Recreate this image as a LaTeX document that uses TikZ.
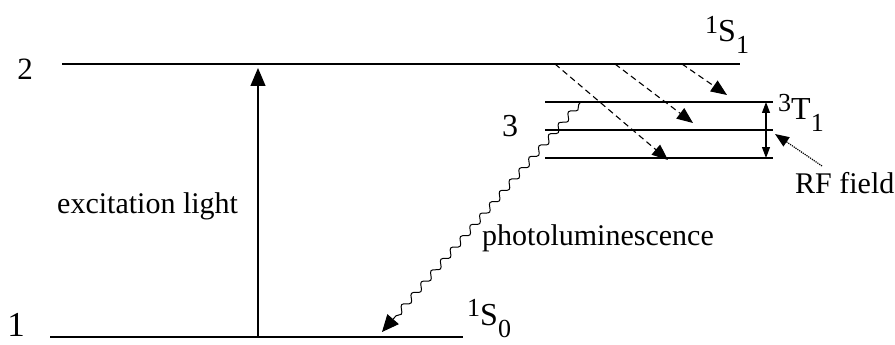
\documentclass[tikz,border=0pt]{standalone}
\usepackage{fontspec}
\setmainfont{Liberation Serif}
\usetikzlibrary{arrows.meta,decorations.pathmorphing}
\newcommand\statelab[3]{{\fontsize{26}{26}\selectfont\raisebox{9pt}{#1}}#2{\fontsize{26}{26}\selectfont\raisebox{-12pt}{#3}}}
\begin{document}
\begin{tikzpicture}[x=1pt,y=-1pt,
  level/.style={line width=1.6pt},
  txt/.style={inner sep=0pt, font=\fontsize{30}{36}\selectfont},
  statetxt/.style={inner sep=0pt, font=\fontsize{32}{36}\selectfont, anchor=base west},
  bigarr/.style={line width=1.2pt, -{Triangle[length=18pt,width=15pt]}},
  dasharr/.style={line width=1.1pt, dash pattern=on 6pt off 4pt, -{Triangle[length=16pt,width=13pt]}},
  wavy/.style={line width=1pt, decorate,
    decoration={snake, amplitude=3pt, segment length=15pt, pre length=2pt, post length=16pt},
    -{Triangle[length=17pt,width=15pt]}},
  rfarr/.style={line width=1.1pt, {Triangle[length=11pt,width=8pt]}-{Triangle[length=11pt,width=8pt]}},
  fieldarr/.style={line width=1.2pt, densely dotted, -{Triangle[length=14pt,width=11pt]}}
]
\useasboundingbox (0,0) rectangle (895,345);

% level end points
\coordinate (L2a) at (62,64);  \coordinate (L2b) at (740,64);
\coordinate (L1a) at (50,337); \coordinate (L1b) at (463,337);
\coordinate (T1a) at (545,102); \coordinate (T1b) at (773,102);
\coordinate (T2a) at (545,130); \coordinate (T2b) at (773,130);
\coordinate (T3a) at (545,158); \coordinate (T3b) at (773,158);

\draw[level] (L2a) -- (L2b);
\draw[level] (L1a) -- (L1b);
\draw[level] (T1a) -- (T1b);
\draw[level] (T2a) -- (T2b);
\draw[level] (T3a) -- (T3b);

% excitation
\coordinate (exS) at (258,337); \coordinate (exE) at (258,68);
\draw[bigarr] (exS) -- (exE);

% intersystem crossing (dashed)
\coordinate (da1) at (555,64); \coordinate (db1) at (668,160);
\coordinate (da2) at (615,64); \coordinate (db2) at (693,123);
\coordinate (da3) at (682,64); \coordinate (db3) at (727,95);
\draw[dasharr] (da1) -- (db1);
\draw[dasharr] (da2) -- (db2);
\draw[dasharr] (da3) -- (db3);

% photoluminescence
\coordinate (wS) at (580,103); \coordinate (wE) at (382,332);
\draw[wavy] (wS) -- (wE);

% RF
\coordinate (rfT) at (766,102); \coordinate (rfB) at (766,158);
\draw[rfarr] (rfT) -- (rfB);
\coordinate (fS) at (822,166); \coordinate (fE) at (775,134);
\draw[fieldarr] (fS) -- (fE);

% texts
\node[txt, anchor=base west] (exc) at (57,213) {excitation light};
\node[txt, anchor=base west] (pl) at (482,245) {photoluminescence};
\node[txt, anchor=base west] (rf) at (795,193) {RF field};
\node[inner sep=0pt, font=\fontsize{31}{31}\selectfont] (n2) at (25,69) {2};
\node[inner sep=0pt, font=\fontsize{35}{35}\selectfont] (n1) at (16,325) {1};
\node[inner sep=0pt, font=\fontsize{32}{32}\selectfont] (n3) at (510,126) {3};
\node[statetxt] (s1) at (705,42) {\statelab{1}{S}{1}};
\node[statetxt] (t1) at (778,120) {\statelab{3}{T}{1}};
\node[statetxt] (s0) at (467,325) {\statelab{1}{S}{0}};
\end{tikzpicture}
\end{document}
